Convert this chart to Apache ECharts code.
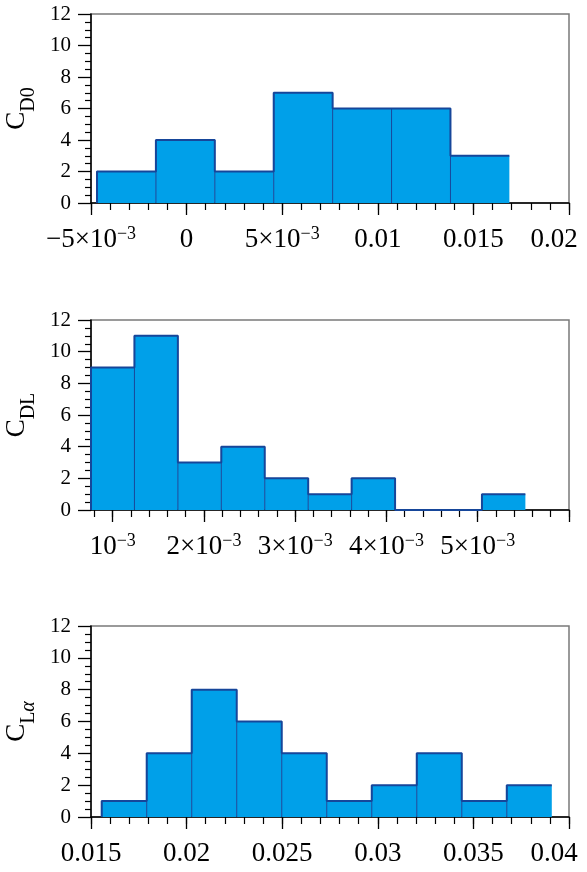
<!DOCTYPE html>
<html>
<head>
<meta charset="utf-8">
<script src="https://cdn.jsdelivr.net/npm/echarts@6/dist/echarts.min.js"></script>
<style>
  html, body { margin: 0; padding: 0; background: #fff; }
  #chart { width: 587px; height: 872px; }
</style>
</head>
<body>
<div id="chart"></div>
<script>
// histogram bin edges and counts
const edgesD0 = [-0.004686, -0.001605, 0.001476, 0.004557, 0.007638, 0.010719, 0.0138, 0.016881];
const countsD0 = [2, 4, 2, 7, 6, 6, 3];

const edgesDL = [0.000762, 0.001238, 0.001714, 0.00219, 0.002666, 0.003142, 0.003618, 0.004094, 0.00457, 0.005046, 0.005522];
const countsDL = [9, 11, 3, 4, 2, 1, 2, 0, 0, 1];

const edgesLa = [0.01556, 0.017914, 0.020268, 0.022622, 0.024976, 0.02733, 0.029684, 0.032038, 0.034392, 0.036746, 0.0391];
const countsLa = [1, 4, 8, 6, 4, 1, 2, 4, 1, 2];

// x ticks + labels ({e|..} = last label, nudged left so it stays on the page)
const ticksD0 = [-0.005, 0, 0.005, 0.01, 0.015, 0.02];
const labelsD0 = ['−5×10{s|−3}', '0', '5×10{s|−3}', '0.01', '0.015', '{e|0.02}'];
const ticksDL = [0.001, 0.002, 0.003, 0.004, 0.005, 0.006];
const labelsDL = ['10{s|−3}', '2×10{s|−3}', '3×10{s|−3}', '4×10{s|−3}', '5×10{s|−3}', ''];
const ticksLa = [0.015, 0.02, 0.025, 0.03, 0.035, 0.04];
const labelsLa = ['0.015', '0.02', '0.025', '0.03', '0.035', '{e|0.04}'];

const FONT = "'Liberation Serif', 'DejaVu Serif', serif";
const FILL = '#00A0E9';
const EDGE = '#16469A';

const panels = [
  { top: 14, height: 189, min: -0.005, max: 0.02, edges: edgesD0, counts: countsD0,
    ticks: ticksD0, labels: labelsD0, minorStep: 0.001, name: '{c|C}{s|D0}' },
  { top: 320, height: 190, min: 0.000762, max: 0.006, edges: edgesDL, counts: countsDL,
    ticks: ticksDL, labels: labelsDL, minorStep: 0.0002, name: '{c|C}{s|DL}' },
  { top: 626, height: 191, min: 0.015, max: 0.04, edges: edgesLa, counts: countsLa,
    ticks: ticksLa, labels: labelsLa, minorStep: 0.001, name: '{c|C}{s|L}{a|α}' }
];

const minorTicks = (p) => {
  const out = [];
  const start = Math.ceil(p.min / p.minorStep - 1e-6);
  for (let k = start; k * p.minorStep <= p.max + 1e-12; k++) {
    out.push(+(k * p.minorStep).toFixed(6));
  }
  return out;
};

const grid = [], xAxis = [], yAxis = [], series = [];

panels.forEach((p, i) => {
  grid.push({
    left: 91, top: p.top, width: 478, height: p.height,
    outerBoundsMode: 'none', containLabel: false,
    show: true, borderColor: '#7a7a7a', borderWidth: 1.5, backgroundColor: 'transparent'
  });

  // main x axis: line, major ticks and labels
  xAxis.push({
    type: 'value', gridIndex: i, position: 'bottom', min: p.min, max: p.max,
    splitLine: { show: false },
    axisLine: { onZero: false, lineStyle: { color: '#000', width: 1.5 } },
    axisTick: { customValues: p.ticks, inside: false, length: 12, lineStyle: { color: '#000', width: 1.3 } },
    axisLabel: {
      customValues: p.ticks,
      color: '#000', fontFamily: FONT, fontSize: 27, lineHeight: 30, margin: 22,
      formatter: (v) => {
        const k = p.ticks.findIndex(t => Math.abs(t - v) < 1e-9);
        return k < 0 ? '' : p.labels[k];
      },
      rich: {
        s: { fontFamily: FONT, fontSize: 18, lineHeight: 18, verticalAlign: 'top', color: '#000' },
        e: { fontFamily: FONT, fontSize: 27, lineHeight: 30, padding: [0, 30, 0, 0], color: '#000' }
      }
    }
  });
  // minor x ticks
  xAxis.push({
    type: 'value', gridIndex: i, position: 'bottom', min: p.min, max: p.max,
    splitLine: { show: false },
    axisLine: { show: false, onZero: false },
    axisLabel: { show: false },
    axisTick: { customValues: minorTicks(p), inside: false, length: 7, lineStyle: { color: '#000', width: 1.2 } }
  });

  yAxis.push({
    type: 'value', gridIndex: i, position: 'left', min: 0, max: 12, interval: 2,
    splitLine: { show: false },
    axisLine: { show: true, onZero: false, lineStyle: { color: '#000', width: 1.5 } },
    axisTick: { show: true, inside: false, length: 13, lineStyle: { color: '#000', width: 1.3 } },
    minorTick: { show: true, splitNumber: 4, length: 6, lineStyle: { color: '#000', width: 1.2 } },
    axisLabel: { color: '#000', fontFamily: FONT, fontSize: 21, margin: 20 },
    name: p.name,
    nameLocation: 'middle',
    nameRotate: 90,
    nameGap: 57,
    nameTextStyle: {
      rich: {
        c: { fontFamily: FONT, fontSize: 27, lineHeight: 30, verticalAlign: 'top', color: '#000' },
        s: { fontFamily: FONT, fontSize: 20, lineHeight: 20, padding: [16, 0, 0, 0], verticalAlign: 'top', color: '#000' },
        a: { fontFamily: FONT, fontSize: 20, lineHeight: 20, fontStyle: 'italic', padding: [16, 0, 0, 0], verticalAlign: 'top', color: '#000' }
      }
    }
  });

  const bars = p.counts.map((c, k) => [p.edges[k], p.edges[k + 1], c]);
  series.push({
    type: 'custom',
    xAxisIndex: i * 2, yAxisIndex: i,
    encode: { x: [0, 1], y: 2 },
    data: bars,
    renderItem: (params, api) => {
      const a = api.coord([api.value(0), api.value(2)]);
      const b = api.coord([api.value(1), 0]);
      return {
        type: 'group',
        children: [
          { type: 'rect', shape: { x: a[0], y: a[1], width: b[0] - a[0], height: b[1] - a[1] },
            style: { fill: FILL } },
          { type: 'line', shape: { x1: a[0], y1: a[1], x2: a[0], y2: b[1] },
            style: { stroke: EDGE, lineWidth: 1 } }
        ]
      };
    },
    z: 2
  });

  // outline along the tops of the bars
  const sky = [[p.edges[0], 0]];
  p.counts.forEach((c, k) => {
    sky.push([p.edges[k], c]);
    sky.push([p.edges[k + 1], c]);
  });
  series.push({
    type: 'line',
    xAxisIndex: i * 2, yAxisIndex: i,
    data: sky,
    showSymbol: false,
    symbol: 'none',
    silent: true,
    lineStyle: { color: EDGE, width: 2 },
    z: 3
  });
});

const chart = echarts.init(document.getElementById('chart'), null, { renderer: 'canvas' });
chart.setOption({
  animation: false,
  backgroundColor: '#fff',
  grid, xAxis, yAxis, series
});
</script>
</body>
</html>
